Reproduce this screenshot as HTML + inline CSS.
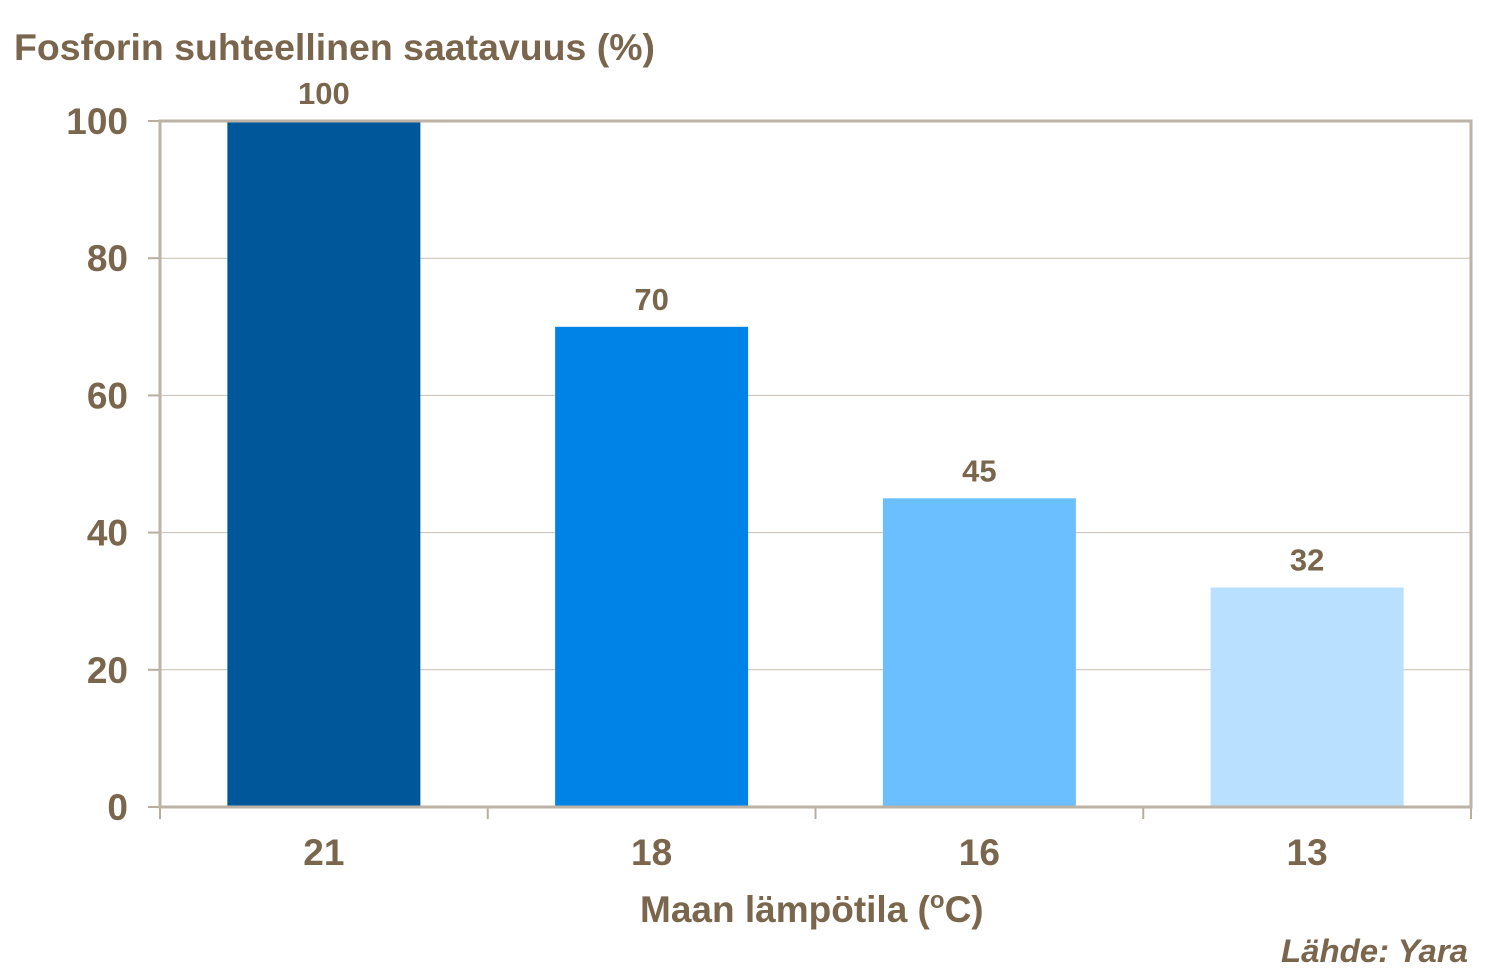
<!DOCTYPE html>
<html><head><meta charset="utf-8"><style>
body{margin:0;background:#fff;}
svg text{font-family:"Liberation Sans",sans-serif;font-weight:bold;fill:#7a664d;}
</style></head><body>
<svg width="1500" height="968" viewBox="0 0 1500 968" xmlns="http://www.w3.org/2000/svg">
<g id="grid"></g>
<g id="bars"></g>
<g id="axes"></g>
<text x="14" y="60" font-size="37" textLength="641" lengthAdjust="spacingAndGlyphs">Fosforin suhteellinen saatavuus (%)</text>
<text x="640" y="922" font-size="37">Maan lämpötila (<tspan font-size="24" dy="-14">o</tspan><tspan dy="14">C)</tspan></text>
<text x="1281" y="962" font-size="32" textLength="187" lengthAdjust="spacingAndGlyphs" font-style="italic">Lähde:  Yara</text>
</svg>
<script>
const categories=["21","18","16","13"];
const values=[100,70,45,32];
const yTicks=[0,20,40,60,80,100];
const colors=["#00589b","#0083e6","#6bbfff","#b9e0ff"];
const L=160,R=1471,T=121,B=807,yMax=100;
const NS="http://www.w3.org/2000/svg";
const y=v=>B-(v/yMax)*(B-T);
const bw=(R-L)/categories.length;
const x=i=>L+bw*i+bw/2;
function mk(tag,attrs,parent,txt){const e=document.createElementNS(NS,tag);for(const k in attrs)e.setAttribute(k,attrs[k]);if(txt!==undefined)e.textContent=txt;parent.appendChild(e);return e;}
const grid=document.getElementById('grid'),bars=document.getElementById('bars'),axes=document.getElementById('axes');
yTicks.forEach(t=>{
  if(t>0&&t<yMax){const g=mk('line',{x1:L,x2:R,y1:y(t),y2:y(t),stroke:'#c8bfb2','stroke-width':1},grid);
  
  }
  const tk=mk('line',{x1:L-12,x2:L,y1:y(t),y2:y(t),stroke:'#b8aea0','stroke-width':2},axes);
  
  
  const lb=mk('text',{x:L-32,y:y(t)+13,'font-size':37,'text-anchor':'end'},axes,String(t));
  
  
});
categories.forEach((c,i)=>{
  const w=193;
  const r=mk('rect',{x:x(i)-w/2,y:y(values[i]),width:w,height:B-y(values[i]),fill:colors[i]},bars);
  
  
  const v=mk('text',{x:x(i),y:y(values[i])-17,'font-size':31,'text-anchor':'middle'},bars,String(values[i]));
  
  
  const cl=mk('text',{x:x(i),y:865,'font-size':37,'text-anchor':'middle'},axes,c);
  
  
});
for(let i=0;i<=categories.length;i++){
  const xt=L+bw*i;
  const t=mk('line',{x1:xt,x2:xt,y1:B,y2:B+12,stroke:'#b8aea0','stroke-width':2},axes);
  
  
}
const f=mk('rect',{x:L,y:T,width:R-L,height:B-T,fill:'none',stroke:'#bcb2a6','stroke-width':3},axes);


</script>
</body></html>
